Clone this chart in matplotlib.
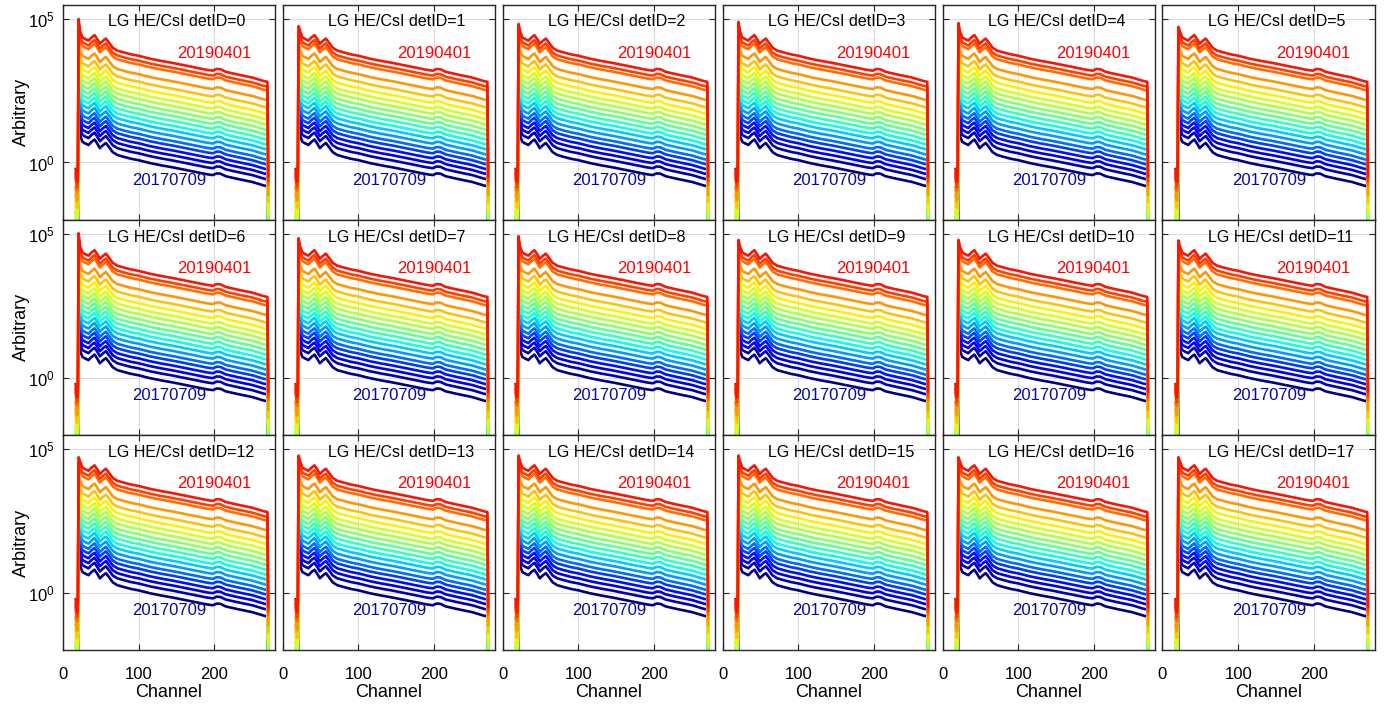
import matplotlib
matplotlib.use('Agg')
import matplotlib.pyplot as plt
import numpy as np
from matplotlib.ticker import FixedLocator, LogFormatterSciNotation, NullLocator, NullFormatter

plt.rcParams['font.family'] = ['Liberation Sans', 'DejaVu Sans']
plt.rcParams['mathtext.fontset'] = 'custom'
plt.rcParams['mathtext.rm'] = 'Liberation Sans'
plt.rcParams['mathtext.it'] = 'Liberation Sans:italic'

# channel points
channels = [17, 19, 20, 21, 23, 26, 30, 34, 38, 42, 46, 49, 53, 57, 61, 66, 72, 80, 90,
            100, 115, 130, 145, 160, 175, 190, 198, 203, 208, 215, 230, 250, 265, 270, 271]
# log10 shape relative to the value at channel 100
shape_rel = [-3.95, -4.4, -4.0, 1.0, 0.85, 0.64, 0.58, 0.53, 0.64, 0.72, 0.56, 0.42, 0.52, 0.60, 0.46,
             0.28, 0.18, 0.12, 0.05, 0.0, -0.10, -0.18, -0.25, -0.33, -0.41, -0.49, -0.52, -0.46,
             -0.47, -0.56, -0.65, -0.76, -0.88, -0.91, -4.2]
# log10 level at channel 100 of each date, oldest (20170709) to newest (20190401)
levels = [0.08, 0.32, 0.50, 0.67, 0.84, 1.00, 1.18, 1.36, 1.53, 1.70,
          1.87, 2.04, 2.22, 2.40, 2.60, 2.82, 3.08, 3.42, 3.55, 3.72]
# log10 height of the first peak (newest curve) for each detID
panel_peak = [5.00, 4.75, 4.83, 4.90, 4.86, 4.73,
              5.03, 4.86, 4.93, 4.80, 4.80, 4.78,
              4.72, 4.78, 4.78, 4.78, 4.72, 4.72]
first_date = '20170709'
last_date = '20190401'

fig, axes = plt.subplots(3, 6, figsize=(14, 7.06), dpi=100, sharex=True, sharey=True)
fig.subplots_adjust(left=0.0448, right=0.982, top=0.9933, bottom=0.0793, hspace=0, wspace=0.036)

colors = plt.get_cmap('jet')(np.linspace(0, 0.89, len(levels)))
spike = channels.index(21)

for k, ax in enumerate(axes.flat):
    for i, lev in enumerate(levels):
        logy = np.array(shape_rel) + lev
        logy[spike] = lev + panel_peak[k] - levels[-1]
        ax.plot(channels, 10 ** logy, color=colors[i], lw=1.9)
    ax.set_yscale('log')
    ax.set_xlim(0, 280)
    ax.set_ylim(1e-2, 10 ** 5.5)
    ax.yaxis.set_major_locator(FixedLocator([1, 1e5]))
    ax.yaxis.set_major_formatter(LogFormatterSciNotation())
    ax.yaxis.set_minor_locator(NullLocator())
    ax.yaxis.set_minor_formatter(NullFormatter())
    ax.xaxis.set_major_locator(FixedLocator([0, 100, 200]))
    ax.grid(True, color='#dcdcdc', lw=0.8)
    ax.set_axisbelow(True)
    ax.tick_params(direction='in', top=True, right=True, length=4, width=0.8,
                   color='#262626', labelsize=12)
    ax.tick_params(axis='x', pad=12)
    ax.tick_params(axis='y', pad=6)
    for s in ax.spines.values():
        s.set_color('#262626')
        s.set_linewidth(1.0)
    ax.text(0.215, 0.92, 'LG HE/CsI detID=%d' % k, transform=ax.transAxes,
            fontsize=11.5, ha='left', va='center')
    ax.text(0.537, 0.775, last_date, transform=ax.transAxes, fontsize=12,
            color='red', ha='left', va='center')
    ax.text(0.326, 0.185, first_date, transform=ax.transAxes, fontsize=12,
            color='#0a0a9a', ha='left', va='center')
    if k % 6 == 0:
        ax.set_ylabel('Arbitrary', fontsize=13, labelpad=-2)
    if k >= 12:
        ax.set_xlabel('Channel', fontsize=13, labelpad=2)

fig.align_ylabels(axes[:, 0])
plt.savefig('out.png', dpi=100)
